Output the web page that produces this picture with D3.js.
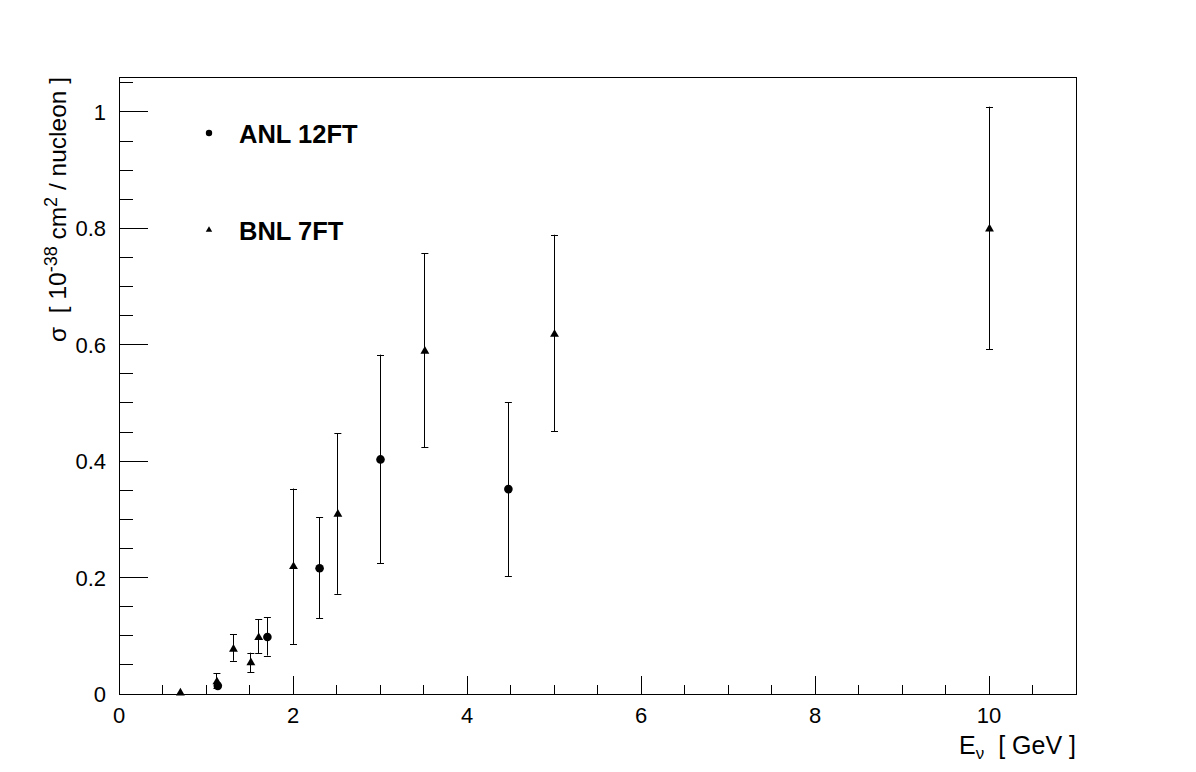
<!DOCTYPE html>
<html><head><meta charset="utf-8">
<script src="https://cdn.jsdelivr.net/npm/d3@7"></script>
<style>body{margin:0;background:#fff}svg{display:block}text{font-family:"Liberation Sans",Arial,sans-serif}</style>
</head><body>
<script>
// ANL 12FT (circles)
const anlE = [1.13, 1.70, 2.30, 3.00, 4.47];
const anlS = [0.014, 0.098, 0.216, 0.403, 0.352];
const anlHi = [0.022, 0.132, 0.304, 0.583, 0.501];
const anlLo = [0.008, 0.066, 0.130, 0.225, 0.202];
// BNL 7FT (triangles)
const bnlE = [0.70, 1.12, 1.31, 1.51, 1.60, 2.00, 2.51, 3.51, 5.00, 10.0];
const bnlS = [0.002, 0.021, 0.077, 0.054, 0.097, 0.219, 0.309, 0.589, 0.618, 0.799];
const bnlHi = [0.003, 0.036, 0.103, 0.071, 0.128, 0.353, 0.448, 0.757, 0.789, 1.009];
const bnlLo = [0.001, 0.010, 0.057, 0.037, 0.070, 0.086, 0.172, 0.424, 0.451, 0.592];
const xTicks = [0, 2, 4, 6, 8, 10];
const yTicks = [0, 0.2, 0.4, 0.6, 0.8, 1];
const legendLabels = ["ANL 12FT", "BNL 7FT"];

const W = 1196, H = 772;
const L = 119, R = 1076, T = 77, B = 694;
const svg = d3.select("body").append("svg").attr("width", W).attr("height", H);
const x = d3.scaleLinear().domain([0, 11]).range([L, R]);
const y = d3.scaleLinear().domain([0, 1.06]).range([B, T]);

// frame
svg.append("rect").attr("x", L).attr("y", T).attr("width", R - L).attr("height", B - T)
  .attr("fill", "none").attr("stroke", "#000").attr("stroke-width", 1).attr("shape-rendering", "crispEdges");

// x axis ticks
const xMinor = d3.range(0, 11.001, 0.5);
svg.append("g").selectAll("line").data(xMinor).join("line")
  .attr("x1", d => x(d)).attr("x2", d => x(d))
  .attr("y1", B).attr("y2", d => (Math.abs(d % 2) < 1e-9) ? B - 18 : B - 9)
  .attr("stroke", "#000").attr("shape-rendering", "crispEdges");
svg.append("g").selectAll("text").data(xTicks).join("text")
  .attr("x", d => x(d)).attr("y", 723).attr("text-anchor", "middle")
  .attr("font-size", 22).text(d => d3.format("")(d));

// y axis ticks
const yMinor = d3.range(0, 1.0601, 0.05).map(v => +v.toFixed(2));
svg.append("g").selectAll("line").data(yMinor).join("line")
  .attr("x1", L).attr("x2", d => (Math.round(d * 100) % 20 === 0) ? L + 29 : L + 14)
  .attr("y1", d => y(d)).attr("y2", d => y(d))
  .attr("stroke", "#000").attr("shape-rendering", "crispEdges");
svg.append("g").selectAll("text").data(yTicks).join("text")
  .attr("x", 106).attr("y", d => y(d) + 8).attr("text-anchor", "end")
  .attr("font-size", 22).text(d => d3.format("")(d));

// axis titles
const xt = svg.append("text").attr("x", R).attr("y", 754).attr("text-anchor", "end").attr("font-size", 25).attr("xml:space", "preserve");
xt.append("tspan").text("E");
xt.append("tspan").attr("font-size", 17).attr("dy", 5).text("ν");
xt.append("tspan").attr("dy", -5).text("  [ GeV ]");

const yt = svg.append("text").attr("transform", `translate(66,${T}) rotate(-90)`)
  .attr("text-anchor", "end").attr("font-size", 24.5).attr("xml:space", "preserve");
yt.append("tspan").text("σ  [ 10");
yt.append("tspan").attr("font-size", 18).attr("dy", -9).text("-38");
yt.append("tspan").attr("dy", 9).text(" cm");
yt.append("tspan").attr("font-size", 18).attr("dy", -9).text("2");
yt.append("tspan").attr("dy", 9).text(" / nucleon ]");

// data helpers
function errs(E, S, Hi, Lo) {
  const g = svg.append("g").attr("stroke", "#000").attr("stroke-width", 1);
  const idx = d3.range(E.length);
  g.selectAll(".v").data(idx).join("line").attr("class", "v")
    .attr("x1", i => Math.round(x(E[i])) + 0.5).attr("x2", i => Math.round(x(E[i])) + 0.5)
    .attr("y1", i => y(Hi[i])).attr("y2", i => y(Lo[i]));
  g.selectAll(".t").data(idx.filter(i => Hi[i] - Lo[i] > 0.02)).join("line").attr("class", "t")
    .attr("x1", i => x(E[i]) - 3).attr("x2", i => x(E[i]) + 4)
    .attr("y1", i => Math.round(y(Hi[i])) + 0.5).attr("y2", i => Math.round(y(Hi[i])) + 0.5);
  g.selectAll(".b").data(idx.filter(i => Hi[i] - Lo[i] > 0.02)).join("line").attr("class", "b")
    .attr("x1", i => x(E[i]) - 3).attr("x2", i => x(E[i]) + 4)
    .attr("y1", i => Math.round(y(Lo[i])) + 0.5).attr("y2", i => Math.round(y(Lo[i])) + 0.5);
}
errs(anlE, anlS, anlHi, anlLo);
errs(bnlE, bnlS, bnlHi, bnlLo);

const tri = d3.symbol().type(d3.symbolTriangle).size(34);
svg.append("g").selectAll("path").data(d3.range(bnlE.length)).join("path")
  .attr("transform", i => `translate(${x(bnlE[i]) + 0.5},${y(bnlS[i])})`)
  .attr("d", tri).attr("fill", "#000");
svg.append("g").selectAll("circle").data(d3.range(anlE.length)).join("circle")
  .attr("cx", i => x(anlE[i]) + 0.5).attr("cy", i => y(anlS[i])).attr("r", 4.3).attr("fill", "#000");

// legend
svg.append("circle").attr("cx", 209).attr("cy", 133).attr("r", 3.2).attr("fill", "#000");
svg.append("path").attr("transform", "translate(209,230)").attr("d", d3.symbol().type(d3.symbolTriangle).size(18)).attr("fill", "#000");
svg.append("text").attr("x", 239).attr("y", 143).attr("font-size", 25.5).attr("font-weight", "bold").text(legendLabels[0]);
svg.append("text").attr("x", 239).attr("y", 240).attr("font-size", 25.5).attr("font-weight", "bold").text(legendLabels[1]);
</script>
</body></html>
